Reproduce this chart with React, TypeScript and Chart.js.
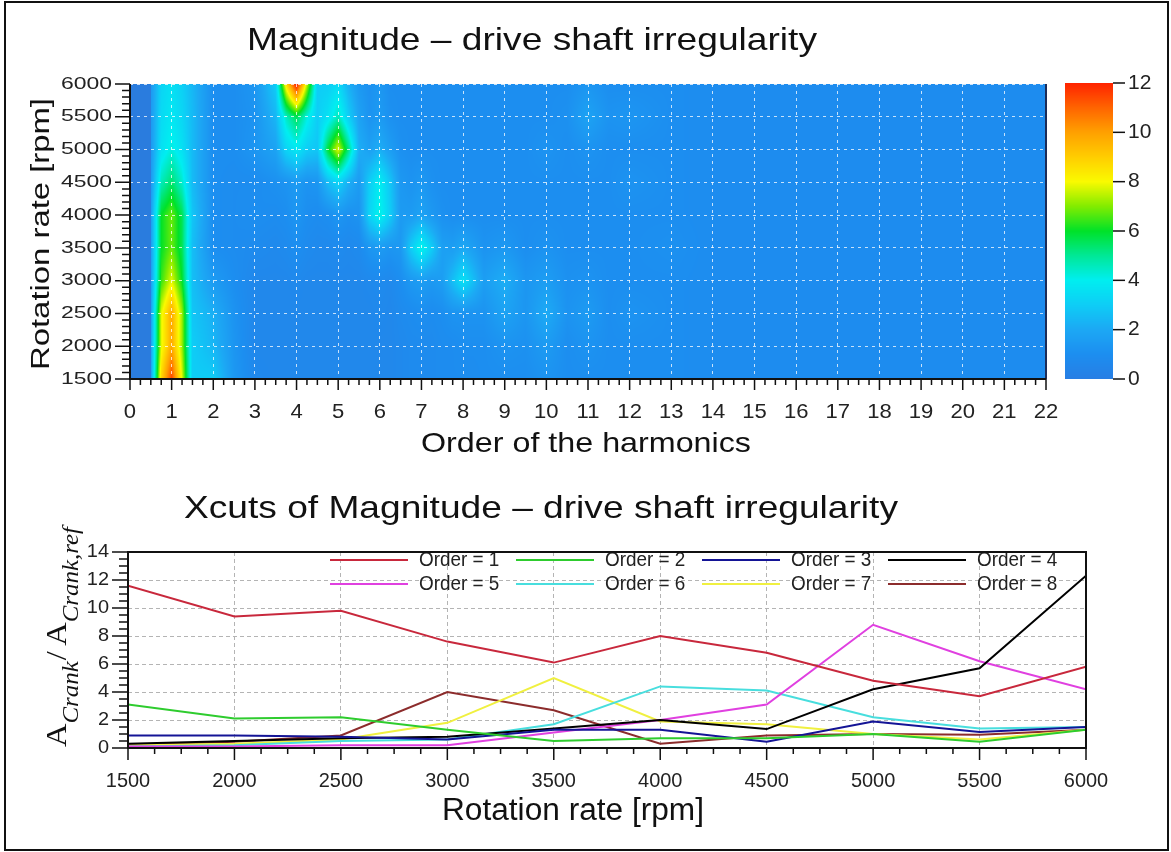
import React, { useEffect, useRef } from "react";
import { Chart, registerables } from "chart.js";

Chart.register(...registerables);

// ---------------- data ----------------
const rpmValues = [1500, 2000, 2500, 3000, 3500, 4000, 4500, 5000, 5500, 6000];

const order1 = [11.6, 9.4, 9.8, 7.6, 6.1, 8.0, 6.8, 4.8, 3.7, 5.8];
const order2 = [3.1, 2.1, 2.2, 1.3, 0.5, 0.7, 0.7, 1.0, 0.45, 1.3];
const order3 = [0.9, 0.9, 0.8, 0.6, 1.3, 1.3, 0.45, 1.9, 1.15, 1.5];
const order4 = [0.3, 0.5, 0.7, 0.8, 1.4, 2.0, 1.35, 4.2, 5.7, 12.3];
const order5 = [0.1, 0.1, 0.2, 0.2, 1.1, 2.0, 3.1, 8.8, 6.2, 4.2];
const order6 = [0.1, 0.2, 0.5, 0.6, 1.7, 4.4, 4.1, 2.2, 1.4, 1.5];
const order7 = [0.2, 0.3, 0.6, 1.8, 5.0, 1.9, 1.7, 1.0, 0.6, 1.3];
const order8 = [0.2, 0.45, 0.9, 4.0, 2.7, 0.3, 0.9, 1.0, 0.95, 1.3];

const seriesValues = [order1, order2, order3, order4, order5, order6, order7, order8];
const seriesLabels = ["Order = 1", "Order = 2", "Order = 3", "Order = 4", "Order = 5", "Order = 6", "Order = 7", "Order = 8"];
const seriesColors = ["#c8283c", "#2ecc2e", "#141496", "#000000", "#e040e0", "#48dede", "#f0f040", "#8c2c2c"];

// heat map grid: harmonic order columns, each with one magnitude per rpm in rpmValues
const heatOrders = [
  0.5, 0.75, 1, 1.25, 1.5, 2, 2.5, 3, 3.5, 3.75, 4, 4.25, 4.5, 4.75, 5, 5.25, 5.5, 5.75, 6, 6.25, 6.5, 6.75, 7, 7.25, 7.5,
  7.75, 8, 8.25, 8.5, 9, 9.5, 10, 10.5, 11, 11.5, 12, 13, 14, 15, 16, 17, 18, 19, 20, 21, 22,
];
const heatColumns = [
  [1.6, 1.6, 1.5, 1.5, 1.5, 1.5, 1.4, 1.4, 1.4, 1.4], // 0.5
  [8.8, 7.8, 7.8, 6.4, 6.0, 6.0, 4.6, 3.6, 3.4, 3.2], // 0.75
  [11.5, 9.8, 9.8, 7.8, 6.8, 6.8, 5.4, 4.2, 3.8, 3.6], // 1
  [7.8, 7.2, 7.2, 6.0, 5.6, 5.6, 4.4, 3.6, 3.3, 3.1], // 1.25
  [3.0, 3.0, 2.8, 2.6, 2.6, 2.8, 2.5, 2.5, 2.5, 2.4], // 1.5
  [3.0, 2.4, 2.2, 1.5, 1.0, 1.0, 1.0, 1.0, 1.0, 1.0], // 2
  [1.4, 1.3, 1.2, 1.0, 0.9, 0.9, 0.9, 1.0, 1.0, 1.0], // 2.5
  [0.7, 0.6, 0.6, 0.6, 0.8, 1.0, 0.9, 1.3, 1.2, 1.3], // 3
  [0.6, 0.6, 0.6, 0.6, 0.7, 0.9, 1.1, 1.8, 2.4, 3.0], // 3.5
  [0.6, 0.6, 0.6, 0.6, 0.8, 1.0, 1.2, 3.2, 4.5, 8.5], // 3.75
  [0.6, 0.6, 0.6, 0.7, 1.0, 1.3, 1.5, 3.8, 5.6, 12.3], // 4
  [0.6, 0.6, 0.6, 0.6, 0.8, 1.0, 1.2, 3.0, 4.2, 7.5], // 4.25
  [0.6, 0.6, 0.6, 0.6, 0.7, 0.9, 1.3, 2.8, 3.0, 3.0], // 4.5
  [0.6, 0.6, 0.6, 0.6, 0.7, 1.0, 2.5, 5.8, 3.6, 3.0], // 4.75
  [0.6, 0.6, 0.6, 0.6, 0.8, 1.3, 3.2, 7.8, 4.6, 3.4], // 5
  [0.6, 0.6, 0.6, 0.6, 0.7, 1.1, 2.2, 5.2, 3.0, 2.2], // 5.25
  [0.6, 0.6, 0.6, 0.6, 0.8, 1.2, 1.5, 2.2, 1.8, 1.4], // 5.5
  [0.6, 0.6, 0.6, 0.7, 1.3, 3.2, 3.0, 1.7, 1.2, 1.1], // 5.75
  [0.6, 0.6, 0.7, 0.8, 1.5, 4.2, 4.0, 2.2, 1.5, 1.4], // 6
  [0.6, 0.6, 0.6, 0.7, 1.3, 3.0, 2.8, 1.6, 1.1, 1.0], // 6.25
  [0.7, 0.7, 0.8, 1.0, 1.4, 1.5, 1.4, 1.1, 1.0, 1.0], // 6.5
  [0.8, 0.8, 0.9, 1.4, 3.0, 1.5, 1.2, 1.0, 1.0, 1.0], // 6.75
  [0.8, 0.8, 1.0, 1.6, 4.2, 1.8, 1.4, 1.0, 1.0, 1.0], // 7
  [0.8, 0.8, 0.9, 1.4, 3.0, 1.4, 1.1, 1.0, 1.0, 1.0], // 7.25
  [0.9, 0.9, 1.0, 1.6, 1.7, 1.1, 1.0, 1.0, 1.0, 1.0], // 7.5
  [0.9, 0.9, 1.2, 2.6, 1.6, 1.0, 1.0, 1.0, 1.0, 1.0], // 7.75
  [0.9, 1.0, 1.2, 3.6, 2.0, 1.0, 1.0, 1.0, 1.0, 1.0], // 8
  [0.9, 1.0, 1.2, 2.6, 1.6, 1.0, 1.0, 1.0, 1.0, 1.0], // 8.25
  [1.0, 1.0, 1.2, 1.6, 1.2, 1.0, 1.0, 1.0, 1.0, 1.0], // 8.5
  [1.0, 1.2, 1.8, 2.2, 1.4, 1.0, 1.0, 1.0, 1.0, 1.0], // 9
  [1.0, 1.1, 1.3, 1.3, 1.0, 1.0, 1.0, 1.0, 1.0, 1.0], // 9.5
  [1.2, 1.5, 2.1, 1.6, 1.2, 1.0, 1.0, 1.2, 1.0, 1.0], // 10
  [1.0, 1.0, 1.2, 1.1, 1.0, 1.0, 1.0, 1.0, 1.1, 1.0], // 10.5
  [1.0, 1.2, 1.5, 1.2, 1.0, 1.0, 1.0, 1.2, 1.8, 1.3], // 11
  [1.0, 1.0, 1.0, 1.0, 1.0, 1.0, 1.0, 1.0, 1.2, 1.0], // 11.5
  [1.0, 1.0, 1.2, 1.0, 1.0, 1.0, 1.2, 1.0, 1.3, 1.0], // 12
  [1.0, 1.0, 1.0, 1.0, 1.1, 1.0, 1.0, 1.0, 1.0, 1.0], // 13
  [0.9, 0.9, 0.9, 0.9, 0.9, 0.9, 0.9, 0.9, 0.9, 0.9], // 14
  [0.9, 0.9, 0.9, 0.9, 0.9, 0.9, 0.9, 0.9, 0.9, 0.9], // 15
  [0.9, 0.9, 0.9, 0.9, 0.9, 0.9, 0.9, 0.9, 0.9, 0.9], // 16
  [0.9, 0.9, 0.9, 0.9, 0.9, 0.9, 0.9, 0.9, 0.9, 0.9], // 17
  [0.9, 0.9, 0.9, 0.9, 0.9, 0.9, 0.9, 0.9, 0.9, 0.9], // 18
  [0.9, 0.9, 0.9, 0.9, 0.9, 0.9, 0.9, 0.9, 0.9, 0.9], // 19
  [0.9, 0.9, 0.9, 0.9, 0.9, 0.9, 0.9, 0.9, 0.9, 0.9], // 20
  [0.9, 0.9, 0.9, 0.9, 0.9, 0.9, 0.9, 0.9, 0.9, 0.9], // 21
  [0.9, 0.9, 0.9, 0.9, 0.9, 0.9, 0.9, 0.9, 0.9, 0.9], // 22
];

const colorbarTicks = [0, 2, 4, 6, 8, 10, 12];
const cmapStops = [
  [0, 40, 126, 228],
  [1, 28, 142, 240],
  [2, 28, 168, 244],
  [3, 14, 205, 246],
  [4, 0, 238, 240],
  [5, 0, 232, 150],
  [6, 0, 226, 40],
  [7, 130, 236, 0],
  [8, 250, 250, 0],
  [9, 255, 205, 0],
  [10, 255, 160, 0],
  [11, 255, 100, 0],
  [12, 255, 35, 0],
];

// ---------------- helpers ----------------
const SANS = '"Liberation Sans", Arial, Helvetica, sans-serif';
const SERIF = '"Liberation Serif", "Times New Roman", serif';

function drawText(ctx: any, s: string, x: number, y: number, o: any = {}) {
  ctx.save();
  ctx.translate(x, y);
  if (o.rot) ctx.rotate(o.rot);
  ctx.font = `${o.style || ""} ${o.size || 16}px ${o.family || SANS}`;
  ctx.fillStyle = o.color || "#111";
  ctx.textAlign = o.align || "left";
  ctx.textBaseline = o.baseline || "alphabetic";
  let k = o.sx || 1;
  if (o.length) k = o.length / ctx.measureText(s).width;
  ctx.scale(k, 1);
  ctx.fillText(s, 0, 0);
  ctx.restore();
}

function colorAt(v: number) {
  if (v <= cmapStops[0][0]) return cmapStops[0].slice(1);
  for (let i = 1; i < cmapStops.length; i++) {
    const s1 = cmapStops[i];
    if (v <= s1[0]) {
      const s0 = cmapStops[i - 1];
      const t = (v - s0[0]) / (s1[0] - s0[0]);
      return [s0[1] + (s1[1] - s0[1]) * t, s0[2] + (s1[2] - s0[2]) * t, s0[3] + (s1[3] - s0[3]) * t];
    }
  }
  return cmapStops[cmapStops.length - 1].slice(1);
}

const clamp01 = (v: number) => (v < 0 ? 0 : v > 1 ? 1 : v);

function drawTicks(ctx: any, scale: any, axis: "x" | "y", edge: number, minorStep: number, majorLen: number, minorLen: number) {
  const n = Math.round((scale.max - scale.min) / minorStep);
  ctx.save();
  ctx.strokeStyle = "#111";
  ctx.lineWidth = 1.5;
  ctx.beginPath();
  for (let k = 0; k <= n; k++) {
    const v = scale.min + k * minorStep;
    const isMajor = scale.ticks.some((t: any) => Math.abs(t.value - v) < minorStep * 1e-3);
    const len = isMajor ? majorLen : minorLen;
    const p = scale.getPixelForValue(v);
    if (axis === "x") {
      ctx.moveTo(p, edge);
      ctx.lineTo(p, edge + len);
    } else {
      ctx.moveTo(edge, p);
      ctx.lineTo(edge - len, p);
    }
  }
  ctx.stroke();
  ctx.restore();
}

// ---------------- top chart (heat map) ----------------
const heatPlugin = {
  id: "heatmap",
  beforeDraw(chart: any) {
    const { ctx, chartArea: a, scales } = chart;
    const x = scales.x;
    const y = scales.y;
    const w = Math.round(a.right - a.left);
    const h = Math.round(a.bottom - a.top);
    const off = document.createElement("canvas");
    off.width = w;
    off.height = h;
    const octx = off.getContext("2d") as CanvasRenderingContext2D;
    const img = octx.createImageData(w, h);
    const colI = new Int32Array(w);
    const colT = new Float32Array(w);
    const colIn = new Uint8Array(w);
    for (let px = 0; px < w; px++) {
      const o = x.getValueForPixel(a.left + px + 0.5);
      if (o < heatOrders[0]) continue;
      colIn[px] = 1;
      let i = 0;
      while (i < heatOrders.length - 2 && o > heatOrders[i + 1]) i++;
      colI[px] = i;
      colT[px] = clamp01((o - heatOrders[i]) / (heatOrders[i + 1] - heatOrders[i]));
    }
    const rowJ = new Int32Array(h);
    const rowU = new Float32Array(h);
    for (let py = 0; py < h; py++) {
      const r = y.getValueForPixel(a.top + py + 0.5);
      let j = 0;
      while (j < rpmValues.length - 2 && r > rpmValues[j + 1]) j++;
      rowJ[py] = j;
      rowU[py] = clamp01((r - rpmValues[j]) / (rpmValues[j + 1] - rpmValues[j]));
    }
    const strip = [42, 124, 222];
    const d = img.data;
    for (let py = 0; py < h; py++) {
      const j = rowJ[py];
      const u = rowU[py];
      for (let px = 0; px < w; px++) {
        const idx = (py * w + px) * 4;
        let c;
        if (!colIn[px]) c = strip;
        else {
          const i = colI[px];
          const t = colT[px];
          const c0 = heatColumns[i];
          const c1 = heatColumns[i + 1];
          const v0 = c0[j] * (1 - t) + c1[j] * t;
          const v1 = c0[j + 1] * (1 - t) + c1[j + 1] * t;
          c = colorAt(v0 * (1 - u) + v1 * u);
        }
        d[idx] = c[0];
        d[idx + 1] = c[1];
        d[idx + 2] = c[2];
        d[idx + 3] = 255;
      }
    }
    octx.putImageData(img, 0, 0);
    ctx.save();
    ctx.drawImage(off, a.left, a.top);
    ctx.restore();
  },
  afterDraw(chart: any) {
    const { ctx, chartArea: a, scales } = chart;
    const x = scales.x;
    const y = scales.y;
    // frame
    ctx.save();
    ctx.lineWidth = 2;
    ctx.strokeStyle = "#1c2c58";
    ctx.beginPath();
    ctx.moveTo(a.right, a.top);
    ctx.lineTo(a.right, a.bottom);
    ctx.stroke();
    ctx.strokeStyle = "#111";
    ctx.beginPath();
    ctx.moveTo(a.left, a.top);
    ctx.lineTo(a.left, a.bottom);
    ctx.lineTo(a.right, a.bottom);
    ctx.stroke();
    ctx.restore();
    // ticks
    drawTicks(ctx, x, "x", a.bottom, 0.25, 11, 6);
    drawTicks(ctx, y, "y", a.left, 100, 15, 8);
    // tick labels
    x.ticks.forEach((t: any) => {
      drawText(ctx, String(t.value), x.getPixelForValue(t.value), 418, { size: 21, align: "center", sx: 1.05, color: "#222" });
    });
    y.ticks.forEach((t: any) => {
      drawText(ctx, String(t.value), 112, y.getPixelForValue(t.value), { size: 17, align: "right", baseline: "middle", sx: 1.35, color: "#222" });
    });
    // colour bar
    const cbL = a.right + 19;
    const cbR = a.right + 67;
    const cbT = a.top - 1;
    const cbB = a.bottom;
    for (let py = Math.floor(cbT); py < cbB; py++) {
      const v = (12 * (cbB - py - 0.5)) / (cbB - cbT);
      const c = colorAt(v);
      ctx.fillStyle = `rgb(${Math.round(c[0])},${Math.round(c[1])},${Math.round(c[2])})`;
      ctx.fillRect(cbL, py, cbR - cbL, 1);
    }
    ctx.save();
    ctx.strokeStyle = "#111";
    ctx.lineWidth = 1.5;
    colorbarTicks.forEach((v) => {
      const py = cbB - (v / 12) * (cbB - cbT);
      ctx.beginPath();
      ctx.moveTo(cbR, py);
      ctx.lineTo(cbR + 12, py);
      ctx.stroke();
      drawText(ctx, String(v), cbR + 15, py, { size: 21, baseline: "middle", color: "#222" });
    });
    ctx.restore();
    // titles
    drawText(ctx, "Magnitude \u2013 drive shaft irregularity", 247, 50, { size: 32, length: 570 });
    drawText(ctx, "Rotation rate [rpm]", 48.5, 234, { size: 26, rot: -Math.PI / 2, align: "center", length: 272 });
    drawText(ctx, "Order of the harmonics", 586, 452, { size: 28, align: "center", length: 330 });
  },
};

// ---------------- bottom chart (x cuts) ----------------
const legendCols = [330, 516, 702, 888];
const legendRows = [80, 104];

const cutsPlugin = {
  id: "cutsDecor",
  afterDatasetsDraw(chart: any) {
    const { ctx, chartArea: a } = chart;
    chart.data.datasets.forEach((ds: any, i: number) => {
      const cx = legendCols[i % 4];
      const cy = legendRows[Math.floor(i / 4)];
      ctx.save();
      ctx.strokeStyle = ds.borderColor;
      ctx.lineWidth = 2;
      ctx.beginPath();
      ctx.moveTo(cx, cy);
      ctx.lineTo(cx + 78, cy);
      ctx.stroke();
      ctx.restore();
      drawText(ctx, ds.label, cx + 89, cy, { size: 21, baseline: "middle", sx: 0.9, color: "#222" });
    });
    ctx.save();
    ctx.strokeStyle = "#111";
    ctx.lineWidth = 2;
    ctx.strokeRect(a.left, a.top, a.right - a.left, a.bottom - a.top);
    ctx.restore();
  },
  afterDraw(chart: any) {
    const { ctx, chartArea: a, scales } = chart;
    const x = scales.x;
    const y = scales.y;
    drawTicks(ctx, x, "x", a.bottom, 125, 12, 6);
    drawTicks(ctx, y, "y", a.left, 0.5, 16, 9);
    x.ticks.forEach((t: any) => {
      drawText(ctx, String(t.value), x.getPixelForValue(t.value), 307, { size: 21, align: "center", sx: 0.95, color: "#222" });
    });
    y.ticks.forEach((t: any) => {
      drawText(ctx, String(t.value), 109, y.getPixelForValue(t.value), { size: 19, align: "right", baseline: "middle", sx: 1.05, color: "#222" });
    });
    drawText(ctx, "Xcuts of Magnitude \u2013 drive shaft irregularity", 184, 38, { size: 32, length: 714 });
    drawText(ctx, "Rotation rate [rpm]", 442, 340, { size: 31, length: 262 });
    // y title: A_Crank / A_Crank,ref
    const parts = [
      { t: "A", size: 30, italic: false, dy: 0, gap: 0 },
      { t: "Crank", size: 23, italic: true, dy: 12, gap: 1 },
      { t: "/", size: 30, italic: false, dy: 0, gap: 5 },
      { t: "A", size: 30, italic: false, dy: 0, gap: 0 },
      { t: "Crank,ref", size: 23, italic: true, dy: 12, gap: 0 },
    ];
    ctx.save();
    ctx.translate(66, 267);
    ctx.rotate(-Math.PI / 2);
    let total = 0;
    const widths = parts.map((p) => {
      ctx.font = `${p.italic ? "italic " : ""}${p.size}px ${SERIF}`;
      const w = ctx.measureText(p.t).width;
      total += w + p.gap;
      return w;
    });
    ctx.scale(220 / total, 1);
    ctx.fillStyle = "#111";
    ctx.textBaseline = "alphabetic";
    let cx = 0;
    parts.forEach((p, i) => {
      ctx.font = `${p.italic ? "italic " : ""}${p.size}px ${SERIF}`;
      ctx.fillText(p.t, cx, p.dy);
      cx += widths[i] + p.gap;
    });
    ctx.restore();
  },
};

export default function App() {
  const topRef = useRef<HTMLCanvasElement>(null);
  const botRef = useRef<HTMLCanvasElement>(null);

  useEffect(() => {
    const top = new Chart(topRef.current as HTMLCanvasElement, {
      type: "scatter",
      data: { datasets: [] },
      options: {
        animation: false,
        responsive: false,
        devicePixelRatio: 1,
        layout: { padding: { left: 0, top: 84, right: 125, bottom: 0 } },
        plugins: { legend: { display: false }, tooltip: { enabled: false }, title: { display: false } },
        scales: {
          x: {
            type: "linear",
            min: 0,
            max: 22,
            ticks: { stepSize: 1, display: false },
            grid: { color: "rgba(255,255,255,0.75)", lineWidth: 1, drawTicks: false },
            border: { display: false, dash: [3, 4] },
            afterFit: (s: any) => {
              s.height = 101;
            },
          },
          y: {
            type: "linear",
            min: 1500,
            max: 6000,
            ticks: { stepSize: 500, display: false },
            grid: { color: "rgba(255,255,255,0.75)", lineWidth: 1, drawTicks: false },
            border: { display: false, dash: [3, 4] },
            afterFit: (s: any) => {
              s.width = 130;
            },
          },
        },
      } as any,
      plugins: [heatPlugin as any],
    });

    const bot = new Chart(botRef.current as HTMLCanvasElement, {
      type: "line",
      data: {
        datasets: seriesValues.map((vals, i) => ({
          label: seriesLabels[i],
          data: rpmValues.map((r, k) => ({ x: r, y: vals[k] })),
          borderColor: seriesColors[i],
          backgroundColor: seriesColors[i],
          borderWidth: 2,
          pointRadius: 0,
          tension: 0,
          fill: false,
        })),
      },
      options: {
        animation: false,
        responsive: false,
        devicePixelRatio: 1,
        layout: { padding: { left: 0, top: 72, right: 85, bottom: 0 } },
        plugins: { legend: { display: false }, tooltip: { enabled: false }, title: { display: false } },
        scales: {
          x: {
            type: "linear",
            min: 1500,
            max: 6000,
            ticks: { stepSize: 500, display: false },
            grid: { color: "#b4b4b4", lineWidth: 1, drawTicks: false },
            border: { display: false, dash: [4, 3] },
            afterFit: (s: any) => {
              s.height = 104;
            },
          },
          y: {
            type: "linear",
            min: 0,
            max: 14,
            ticks: { stepSize: 2, display: false },
            grid: { color: "#b4b4b4", lineWidth: 1, drawTicks: false },
            border: { display: false, dash: [4, 3] },
            afterFit: (s: any) => {
              s.width = 128;
            },
          },
        },
      } as any,
      plugins: [cutsPlugin as any],
    });

    return () => {
      top.destroy();
      bot.destroy();
    };
  }, []);

  return (
    <div style={{ position: "fixed", left: 0, top: 0, width: 1171, height: 852, background: "#fff", overflow: "hidden" }}>
      <canvas ref={topRef} width={1171} height={480} style={{ position: "absolute", left: 0, top: 0 }} />
      <canvas ref={botRef} width={1171} height={372} style={{ position: "absolute", left: 0, top: 480 }} />
      <div
        style={{
          position: "absolute",
          left: 4,
          top: 1,
          width: 1161,
          height: 846,
          border: "2px solid #111",
          pointerEvents: "none",
        }}
      />
    </div>
  );
}
